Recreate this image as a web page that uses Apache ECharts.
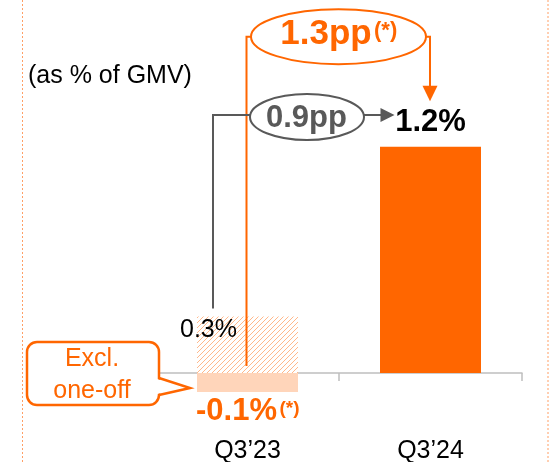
<!DOCTYPE html>
<html><head><meta charset="utf-8">
<script src="https://cdn.jsdelivr.net/npm/echarts@6/dist/echarts.min.js"></script>
<style>html,body{margin:0;padding:0;background:#fff}#c{width:549px;height:462px}</style>
</head><body><div id="c"></div>
<script>
const categories = ['Q3’23', 'Q3’24'];
const reportedValues = [0.3, '-'];
const exclOneOffValues = [-0.1, '-'];
const currentValues = ['-', 1.2];
const deltaReported = '0.9pp';
const deltaExcl = '1.3pp';
const footMark = '(*)';
const unitNote = '(as % of GMV)';
const calloutLines = ['Excl.', 'one-off'];

const ORANGE = '#FF6600';
const GREY = '#595959';
const FONT = '"Liberation Sans", Arial, sans-serif';

function hatch() {
  const s = 5;
  const c = document.createElement('canvas'); c.width = s; c.height = s;
  const g = c.getContext('2d');
  g.fillStyle = '#fff'; g.fillRect(0, 0, s, s);
  g.strokeStyle = '#FFB88A'; g.lineWidth = 1;
  g.beginPath();
  g.moveTo(0, s); g.lineTo(s, 0);
  g.moveTo(-s, s); g.lineTo(s, -s);
  g.moveTo(0, 2 * s); g.lineTo(2 * s, 0);
  g.stroke();
  return c;
}

const chart = echarts.init(document.getElementById('c'), null, {renderer: 'canvas'});
const option = {
  animation: false,
  backgroundColor: '#fff',
  grid: {left: 156, right: 27, top: 109, bottom: 32.4, containLabel: false, outerBoundsMode: 'none'},
  xAxis: [
    {
      type: 'category', data: categories, position: 'bottom',
      axisLine: {onZero: true, lineStyle: {color: '#BFBFBF', width: 1.5}},
      axisTick: {show: true, length: 8, lineStyle: {color: '#BFBFBF', width: 1.5}},
      axisLabel: {show: false}
    },
    {
      type: 'category', data: categories, position: 'bottom',
      axisLine: {show: false, onZero: false},
      axisTick: {show: false},
      axisLabel: {margin: 13.5, fontSize: 25, lineHeight: 16, color: '#000', fontFamily: FONT, interval: 0}
    }
  ],
  yAxis: {type: 'value', min: -0.3, max: 1.4, show: false, splitLine: {show: false}},
  series: [
    {
      type: 'bar', data: reportedValues, barWidth: 101, barGap: '-100%',
      itemStyle: {color: {image: hatch(), repeat: 'repeat'}},
      label: {show: true, position: [11.5, 14], align: 'center', verticalAlign: 'middle',
        formatter: p => p.value + '%', fontSize: 25, color: '#000', fontFamily: FONT}
    },
    {
      type: 'bar', data: exclOneOffValues, barWidth: 101, barGap: '-100%',
      itemStyle: {color: '#FFD5BA'}
    },
    {
      type: 'bar', data: currentValues, barWidth: 101, barGap: '-100%',
      itemStyle: {color: ORANGE},
      label: {show: true, position: 'top', distance: 9, formatter: p => p.value + '%',
        fontSize: 31, fontWeight: 'bold', color: '#000', fontFamily: FONT}
    }
  ]
};
chart.setOption(option);

const P = (i, v) => chart.convertToPixel({seriesIndex: 0}, [i, v]);
const [x0, yZero] = P(0, 0);
const x1 = P(1, 0)[0];
const yRep = P(0, reportedValues[0])[1];
const yExcl = P(0, exclOneOffValues[0])[1];
const yCur = P(1, currentValues[1])[1];
const mid = (x0 + x1) / 2;

const txt = (x, y, text, size, color, bold, align) => ({
  type: 'text', x, y, z: 10,
  style: {text, fontSize: size, fontFamily: FONT, fontWeight: bold ? 'bold' : 'normal',
    fill: color, align: align || 'center', verticalAlign: 'middle'}
});

// orange bracket
const oy = yCur - 110, orx = 87.5, ory = 27.5;
const ocx = mid - 0.5;
// grey bracket
const gy = yCur - 31.7, gcx = x0 + 59.5, grx = 57, gry = 23;
const gxL = x0 - 34.5;
const gTip = x1 - 36;
// callout
const tipX = x0 - 57.5, tipY = yZero + 15;
const bx = 27, by = 342, bw = 132, bh = 63;

chart.setOption({
  graphic: [
    {type: 'line', shape: {x1: 22.5, y1: 0, x2: 22.5, y2: 462}, style: {stroke: '#FF9F66', lineWidth: 1, lineDash: [2, 2]}},
    {type: 'line', shape: {x1: 548, y1: 0, x2: 548, y2: 462}, style: {stroke: '#FF9F66', lineWidth: 1, lineDash: [2, 2]}},
    txt(28, 76, unitNote, 25, '#000', false, 'left'),
    // orange bracket
    {type: 'polyline', z: 5, shape: {points: [[x0 - 1, yZero - 7], [x0 - 1, oy], [ocx - orx, oy]]}, style: {stroke: ORANGE, lineWidth: 2, fill: null}},
    {type: 'polyline', z: 5, shape: {points: [[ocx + orx, oy], [x1 - 0.5, oy], [x1 - 0.5, yCur - 58]]}, style: {stroke: ORANGE, lineWidth: 2, fill: null}},
    {type: 'polygon', z: 5, shape: {points: [[x1 - 8, yCur - 61], [x1 + 7, yCur - 61], [x1 - 0.5, yCur - 45.5]]}, style: {fill: ORANGE}},
    {type: 'ellipse', z: 6, shape: {cx: ocx, cy: oy, rx: orx, ry: ory}, style: {fill: '#fff', stroke: ORANGE, lineWidth: 2}},
    txt(mid - 13, yCur - 112.5, deltaExcl, 35, ORANGE, true),
    txt(mid + 35, yCur - 115.5, footMark, 22, ORANGE, true, 'left'),
    // grey bracket
    {type: 'polyline', z: 7, shape: {points: [[gxL, yRep - 8], [gxL, gy], [gcx - grx, gy]]}, style: {stroke: GREY, lineWidth: 2, fill: null}},
    {type: 'line', z: 7, shape: {x1: gcx + grx, y1: gy, x2: gTip - 12, y2: gy}, style: {stroke: GREY, lineWidth: 2}},
    {type: 'polygon', z: 7, shape: {points: [[gTip - 14, gy - 7], [gTip - 14, gy + 7], [gTip, gy]]}, style: {fill: GREY}},
    {type: 'ellipse', z: 8, shape: {cx: gcx, cy: gy + 2, rx: grx, ry: gry}, style: {fill: '#fff', stroke: GREY, lineWidth: 2}},
    txt(gcx - 0.5, gy + 3.5, deltaReported, 31, GREY, true),
    // -0.1% label
    txt(x0 - 11, yExcl + 20, exclOneOffValues[0] + '%', 31, ORANGE, true),
    txt(x0 + 32, yExcl + 17, footMark, 19, ORANGE, true, 'left'),
    // callout
    {type: 'rect', z: 5, shape: {x: bx, y: by, width: bw, height: bh, r: 10}, style: {fill: '#fff', stroke: ORANGE, lineWidth: 2.5}},
    {type: 'polygon', z: 6, shape: {points: [[bx + bw - 2, tipY - 9], [tipX, tipY], [bx + bw - 2, tipY + 6]]}, style: {fill: '#fff'}},
    {type: 'polyline', z: 6, shape: {points: [[bx + bw, tipY - 10], [tipX, tipY], [bx + bw, tipY + 7]]}, style: {stroke: ORANGE, lineWidth: 2.5, fill: null}},
    txt(bx + bw / 2 - 1, 359.5, calloutLines[0], 25, ORANGE, false),
    txt(bx + bw / 2 - 1, 391, calloutLines[1], 25, ORANGE, false)
  ]
});
</script></body></html>
